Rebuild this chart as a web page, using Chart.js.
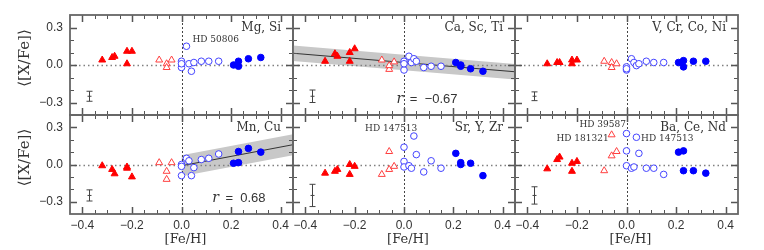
<!DOCTYPE html>
<html>
<head>
<meta charset="utf-8">
<script src="https://cdn.jsdelivr.net/npm/chart.js@4.4.1/dist/chart.umd.min.js"></script>
<style>
  html, body { margin: 0; padding: 0; background: #fff; }
  #wrap { position: relative; width: 764px; height: 250px; }
  #wrap canvas { position: absolute; left: 0; top: 0; }
</style>
</head>
<body>
<div id="wrap">
  <canvas id="p0" width="764" height="250"></canvas>
  <canvas id="p1" width="764" height="250"></canvas>
  <canvas id="p2" width="764" height="250"></canvas>
  <canvas id="p3" width="764" height="250"></canvas>
  <canvas id="p4" width="764" height="250"></canvas>
  <canvas id="p5" width="764" height="250"></canvas>
</div>
<script>
// [Fe/H] of the four star groups (same stars in every panel)
const feRedFilled = [-0.32, -0.28, -0.27, -0.22, -0.22, -0.20];
const feRedOpen = [-0.09, -0.06, -0.06, -0.04];
const feBlueOpen = [0.00, 0.00, 0.00, 0.02, 0.03, 0.04, 0.05, 0.08, 0.11, 0.15];
const feBlueFilled = [0.21, 0.23, 0.23, 0.27, 0.32];

const panelNames = ['Mg, Si', 'Ca, Sc, Ti', 'V, Cr, Co, Ni', 'Mn, Cu', 'Sr, Y, Zr', 'Ba, Ce, Nd'];

// <[X/Fe]> per panel, same order as the [Fe/H] arrays
const xfeRedFilled = [
  [0.04, 0.06, 0.07, 0.11, 0.01, 0.11],
  [0.03, 0.09, 0.07, 0.10, 0.03, 0.13],
  [0.01, 0.02, 0.02, 0.04, 0.01, 0.04],
  [-0.01, -0.04, -0.075, -0.02, -0.03, -0.10],
  [-0.07, -0.055, -0.04, 0.00, -0.08, -0.015],
  [-0.035, 0.04, 0.06, 0.01, -0.055, 0.025]
];
const xfeRedOpen = [
  [0.04, 0.01, -0.02, 0.04],
  [0.04, -0.035, -0.005, 0.025],
  [0.03, 0.02, -0.02, 0.01],
  [0.015, -0.055, -0.12, 0.015],
  [-0.08, 0.105, -0.04, -0.015],
  [-0.05, 0.07, 0.24, 0.105]
];
const xfeBlueOpen = [
  [0.03, -0.02, 0.01, 0.15, 0.01, -0.05, 0.02, 0.03, 0.03, 0.03],
  [0.03, -0.04, 0.01, 0.07, 0.02, 0.05, 0.03, -0.02, -0.01, -0.01],
  [-0.015, -0.04, -0.03, 0.05, 0.02, -0.005, 0.01, 0.03, 0.02, 0.02],
  [0.00, -0.015, -0.09, 0.05, 0.03, -0.09, -0.025, 0.04, 0.05, 0.085],
  [0.14, 0.025, -0.02, -0.01, -0.03, 0.23, 0.08, -0.06, 0.03, -0.03],
  [0.25, 0.11, -0.01, -0.03, -0.02, 0.22, 0.09, -0.03, -0.03, -0.08]
];
const xfeBlueFilled = [
  [0.00, 0.03, -0.01, 0.05, 0.06],
  [0.02, 0.00, -0.01, -0.03, -0.05],
  [0.02, 0.035, -0.015, 0.03, 0.03],
  [0.01, 0.015, 0.105, 0.13, 0.10],
  [0.09, 0.015, 0.00, 0.01, -0.09],
  [0.10, 0.11, -0.05, -0.05, -0.07]
];

// typical error bar
const errBarX = -0.375;
const errBarY = -0.25;
const errBarHalf = [0.04, 0.05, 0.035, 0.045, 0.09, 0.07];

// fitted trends (end points) with their bands
const fitX = [null, [-0.45, 0.45], null, [0.0, 0.45], null, null];
const fitY = [null, [0.094, -0.054], null, [-0.01, 0.16], null, null];
const bandUpper = [null, [0.156, 0.008], null, [0.075, 0.245], null, null];
const bandLower = [null, [0.032, -0.116], null, [-0.095, 0.075], null, null];
const corrValue = [null, '\u22120.67', null, '0.68', null, null];

const starNotes = [
  { panel: 0, text: 'HD 50806', x: 0.044, y: 0.204 },
  { panel: 4, text: 'HD 147513', x: -0.158, y: 0.288 },
  { panel: 5, text: 'HD 39587', x: -0.19, y: 0.322 },
  { panel: 5, text: 'HD 181321', x: -0.283, y: 0.209 },
  { panel: 5, text: 'HD 147513', x: 0.059, y: 0.209 }
];

const xTickVals = [-0.4, -0.2, 0.0, 0.2, 0.4];
const yTickVals = [-0.3, 0.0, 0.3];

const W = 764, H = 250;
const colEdges = [70, 293, 515, 738];
const rowEdges = [15, 115, 214];
const serif = '"DejaVu Serif", serif';
const sans = '"Liberation Sans", Arial, sans-serif';

const fmt = (v) => {
  if (Math.abs(v) < 1e-9) return '0.0';
  return (v < 0 ? '\u2212' : '') + Math.abs(v).toFixed(1);
};
const pts = (xs, ys) => xs.map((x, i) => ({ x: x, y: ys[i] }));

function panelPlugin(p) {
  const col = p % 3, row = Math.floor(p / 3);
  return {
    id: 'panel' + p,
    beforeDatasetDraw(chart, args) {
      // zero lines go over the band but under the points
      if (args.index !== 3) return;
      const { ctx, chartArea: a, scales: { x, y } } = chart;
      ctx.save();
      ctx.strokeStyle = '#808080';
      ctx.lineWidth = 1.3;
      ctx.setLineDash([1.5, 3]);
      const y0 = Math.round(y.getPixelForValue(0)) + 0.5;
      ctx.beginPath(); ctx.moveTo(a.left, y0); ctx.lineTo(a.right, y0); ctx.stroke();
      ctx.strokeStyle = '#444';
      ctx.lineWidth = 1;
      ctx.setLineDash([2, 2]);
      const x0 = Math.round(x.getPixelForValue(0)) + 0.5;
      ctx.beginPath(); ctx.moveTo(x0, a.top); ctx.lineTo(x0, a.bottom); ctx.stroke();
      ctx.restore();
    },
    afterDatasetsDraw(chart) {
      const { ctx, scales: { x, y } } = chart;
      // error bar
      const ex = Math.round(x.getPixelForValue(errBarX)) + 0.5;
      const eTop = y.getPixelForValue(errBarY + errBarHalf[p]);
      const eBot = y.getPixelForValue(errBarY - errBarHalf[p]);
      const eMid = y.getPixelForValue(errBarY);
      ctx.save();
      ctx.strokeStyle = '#444';
      ctx.lineWidth = 1;
      ctx.beginPath();
      ctx.moveTo(ex, eTop); ctx.lineTo(ex, eBot);
      ctx.moveTo(ex - 3, eTop); ctx.lineTo(ex + 3, eTop);
      ctx.moveTo(ex - 3, eBot); ctx.lineTo(ex + 3, eBot);
      ctx.moveTo(ex - 2, eMid); ctx.lineTo(ex + 2, eMid);
      ctx.stroke();
      ctx.restore();
    },
    afterDraw(chart) {
      const { ctx, chartArea: a, scales: { x, y } } = chart;
      ctx.save();
      // ticks on all four sides, pointing in
      ctx.strokeStyle = '#555';
      for (let k = -8; k <= 8; k++) {
        const px = Math.round(x.getPixelForValue(k * 0.05)) + 0.5;
        const major = k % 4 === 0;
        const len = major ? 7 : 4;
        ctx.lineWidth = major ? 1.5 : 1;
        ctx.beginPath();
        ctx.moveTo(px, a.bottom); ctx.lineTo(px, a.bottom - len);
        ctx.moveTo(px, a.top); ctx.lineTo(px, a.top + len);
        ctx.stroke();
      }
      for (let k = -3; k <= 3; k++) {
        const py = Math.round(y.getPixelForValue(k * 0.1)) + 0.5;
        const major = k % 3 === 0;
        const len = major ? 7 : 4;
        ctx.lineWidth = major ? 1.5 : 1;
        ctx.beginPath();
        ctx.moveTo(a.left, py); ctx.lineTo(a.left + len, py);
        ctx.moveTo(a.right, py); ctx.lineTo(a.right - len, py);
        ctx.stroke();
      }
      // frame
      ctx.strokeStyle = '#666';
      ctx.lineWidth = 1.8;
      ctx.strokeRect(a.left, a.top, a.right - a.left, a.bottom - a.top);

      ctx.fillStyle = '#333';
      // element names
      ctx.font = '12px ' + serif;
      ctx.textAlign = 'right';
      ctx.textBaseline = 'middle';
      ctx.fillText(panelNames[p], a.right - 12, a.top + 12.5);

      // star labels
      ctx.font = '9px ' + serif;
      ctx.textAlign = 'left';
      starNotes.filter(n => n.panel === p).forEach(n => {
        ctx.fillText(n.text, x.getPixelForValue(n.x), y.getPixelForValue(n.y));
      });

      // correlation coefficient
      if (corrValue[p]) {
        const cx = x.getPixelForValue(p === 1 ? -0.03 : 0.124);
        const cy = y.getPixelForValue(-0.275);
        ctx.textAlign = 'left';
        ctx.font = 'italic 14px ' + serif;
        ctx.fillText('r', cx, cy);
        ctx.font = '13px ' + sans;
        ctx.fillText('  =  ' + corrValue[p], cx + 6, cy);
      }

      // axis titles
      if (col === 0) {
        ctx.save();
        ctx.translate(25, (a.top + a.bottom) / 2 - 7);
        ctx.rotate(-Math.PI / 2);
        ctx.textAlign = 'center';
        ctx.font = '15px ' + serif;
        ctx.fillText('\u27E8[X/Fe]\u27E9', 0, 0);
        ctx.restore();
      }
      if (row === 1) {
        ctx.textAlign = 'center';
        ctx.font = '13px ' + serif;
        ctx.fillText('[Fe/H]', (a.left + a.right) / 2 + 4, 240);
      }
      ctx.restore();
    }
  };
}

function makePanel(p) {
  const col = p % 3, row = Math.floor(p / 3);
  const left = colEdges[col], right = colEdges[col + 1];
  const top = rowEdges[row], bottom = rowEdges[row + 1];
  // tick labels are clipped to the scale box, so the axes that show them get real room
  const yAxisW = col === 0 ? left : 0;
  const xAxisH = row === 1 ? H - bottom : 0;

  const datasets = [
    { data: pts(feRedFilled, xfeRedFilled[p]), pointStyle: 'triangle', pointRadius: 4,
      backgroundColor: '#ff0000', borderColor: '#ff0000', borderWidth: 1, order: 1 },
    { data: pts(feRedOpen, xfeRedOpen[p]), pointStyle: 'triangle', pointRadius: 4,
      backgroundColor: '#ffffff', borderColor: '#ff4040', borderWidth: 1, order: 1 },
    { data: pts(feBlueOpen, xfeBlueOpen[p]), pointStyle: 'circle', pointRadius: 3.3,
      backgroundColor: '#ffffff', borderColor: '#4444ff', borderWidth: 1, order: 1 },
    { data: pts(feBlueFilled, xfeBlueFilled[p]), pointStyle: 'circle', pointRadius: 3.3,
      backgroundColor: '#0000ff', borderColor: '#0000ff', borderWidth: 1, order: 1 }
  ];
  if (fitY[p]) {
    datasets.push({ type: 'line', data: pts(fitX[p], fitY[p]), borderColor: '#333',
      borderWidth: 1, pointRadius: 0, fill: false, order: 2 });
    datasets.push({ type: 'line', data: pts(fitX[p], bandLower[p]), borderColor: 'rgba(0,0,0,0)',
      borderWidth: 0, pointRadius: 0, fill: false, order: 3 });
    datasets.push({ type: 'line', data: pts(fitX[p], bandUpper[p]), borderColor: 'rgba(0,0,0,0)',
      borderWidth: 0, pointRadius: 0, fill: datasets.length - 1, backgroundColor: '#c8c8c8', order: 3 });
  }

  return new Chart(document.getElementById('p' + p), {
    type: 'scatter',
    data: { datasets: datasets },
    options: {
      responsive: false,
      animation: false,
      devicePixelRatio: 1,
      layout: { padding: { left: left - yAxisW, top: top, right: W - right, bottom: H - bottom - xAxisH } },
      plugins: { legend: { display: false }, tooltip: { enabled: false } },
      scales: {
        x: {
          type: 'linear', position: 'bottom', min: -0.45, max: 0.45,
          grid: { display: false, drawTicks: false }, border: { display: false },
          ticks: { display: row === 1, autoSkip: false, maxRotation: 0, padding: 4,
            color: '#333', font: { family: sans, size: 12 }, callback: (v) => fmt(v) },
          afterBuildTicks: (s) => { s.ticks = xTickVals.map(v => ({ value: v })); },
          afterFit: (s) => { s.height = xAxisH; }
        },
        y: {
          type: 'linear', position: 'left', min: -0.4, max: 0.4,
          grid: { display: false, drawTicks: false }, border: { display: false },
          ticks: { display: col === 0, autoSkip: false, padding: 7,
            color: '#333', font: { family: sans, size: 12 }, callback: (v) => fmt(v) },
          afterBuildTicks: (s) => { s.ticks = yTickVals.map(v => ({ value: v })); },
          afterFit: (s) => { s.width = yAxisW; }
        }
      }
    },
    plugins: [panelPlugin(p)]
  });
}

for (let p = 0; p < 6; p++) makePanel(p);
</script>
</body>
</html>
